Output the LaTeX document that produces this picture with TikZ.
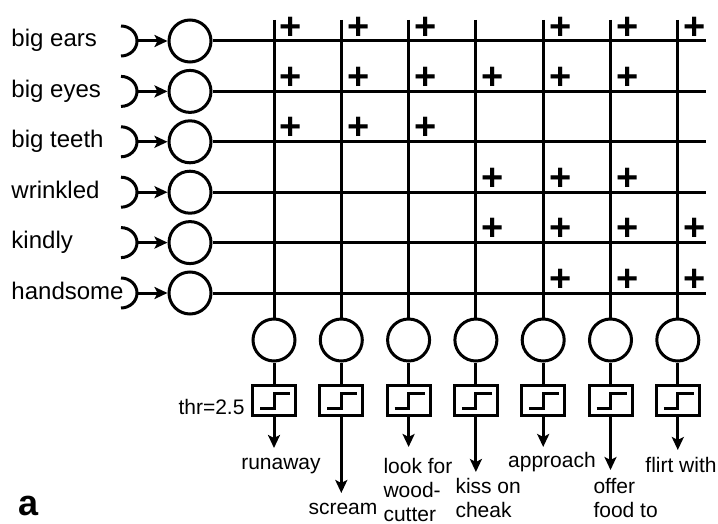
\documentclass[tikz,border=0pt]{standalone}
\usepackage{fontspec}
\setmainfont{Liberation Sans}
\usetikzlibrary{arrows.meta}

\begin{document}
\begin{tikzpicture}[x=1pt, y=-1pt, line width=3pt,
    unit/.style={draw, circle, minimum size=42pt, inner sep=0pt},
    thrbox/.style={draw, minimum width=43pt, minimum height=30pt, inner sep=0pt},
    feat/.style={font=\fontsize{24}{28}\selectfont, anchor=base west, inner sep=0pt},
    act/.style={font=\fontsize{21}{24}\selectfont, align=left, inner sep=0pt},
    plus/.style={font=\fontsize{38}{38}\selectfont\bfseries, inner sep=0pt},
    arr/.style={-{Stealth[length=13pt, width=12pt, inset=3pt]}}]
    \useasboundingbox (0,0) rectangle (718,524);

    % Inputs
    \foreach \name [count=\i] in {big ears, big eyes, big teeth, wrinkled, kindly, handsome} {
        \pgfmathsetmacro\ry{41+50.4*(\i-1)}
        \node[feat] (lab\i) at (10,\ry+6) {\name};
        \node[unit] (in\i) at (190,\ry) {};
        \draw (121,\ry-15) arc[start angle=-90, end angle=90, x radius=16, y radius=15];
        \coordinate (s\i) at (137,\ry);
        \coordinate (e\i) at (706,\ry);
        \draw[arr] (s\i) -- (in\i.west);
        \draw (in\i.east) -- (e\i);
    }

    % Outputs
    \foreach \tip [count=\j] in {448, 493, 447, 472, 447, 470, 450} {
        \pgfmathsetmacro\cx{274+67.3*(\j-1)}
        \coordinate (t\j) at (\cx,20);
        \node[unit] (out\j) at (\cx,340) {};
        \node[thrbox] (thr\j) at (\cx,400) {};
        \coordinate (o\j) at (\cx,\tip);
        \draw (t\j) -- (out\j);
        \draw (out\j) -- (thr\j);
        \draw ([shift={(-14,8)}]thr\j.center) -- ++(14,0) -- ++(0,-15) -- ++(16,0);
        \draw[arr] (thr\j) -- (o\j);
    }

    % Weights
    \foreach \r/\c in {1/1, 1/2, 1/3, 1/5, 1/6, 1/7,
                       2/1, 2/2, 2/3, 2/4, 2/5, 2/6,
                       3/1, 3/2, 3/3,
                       4/4, 4/5, 4/6,
                       5/4, 5/5, 5/6, 5/7,
                       6/5, 6/6, 6/7}
        \node[plus] (p\r-\c) at (274+67.3*\c-67.3+17, 41+50.4*\r-50.4-13) {+};

    % Labels
    \node[act, anchor=base east] (thr) at (246,414) {thr=2.5};
    \node[act, anchor=base] (run) at (281,469) {runaway};
    \node[act, anchor=base] (scr) at (343,514) {scream};
    \node[act, anchor=base west] (look) at (382,521) {look for\\wood-\\cutter};
    \node[act, anchor=base west] (kiss) at (454,517) {kiss on\\cheak};
    \node[act, anchor=base] (appr) at (552,467) {approach};
    \node[act, anchor=base west] (offer) at (592,517) {offer\\food to};
    \node[act, anchor=base] (flirt) at (681,472) {flirt with};
    \node[font=\fontsize{36}{36}\selectfont\bfseries, anchor=base west, inner sep=0pt] (a) at (17,515) {a};
\end{tikzpicture}
\end{document}
